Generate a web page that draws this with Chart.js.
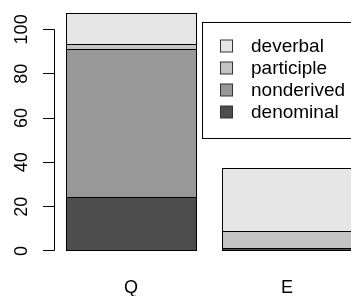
<!DOCTYPE html>
<html>
<head>
<meta charset="utf-8">
<script src="https://cdn.jsdelivr.net/npm/chart.js@4"></script>
<style>
  html, body { margin: 0; padding: 0; background: #fff; overflow: hidden; }
  #wrap { width: 380px; height: 296px; }
</style>
</head>
<body>
<div id="wrap"><canvas id="myChart" width="380" height="296"></canvas></div>
<script>
const labels = ['Q', 'E'];
const denominal = [24, 1];
const nonderived = [67, 0];
const participle = [2, 8];
const deverbal = [14, 28];
const yTicks = [0, 20, 40, 60, 80, 100];
const legendNames = ['deverbal', 'participle', 'nonderived', 'denominal'];

const colDenominal = '#4D4D4D';
const colNonderived = '#989898';
const colParticiple = '#C4C4C4';
const colDeverbal = '#E6E6E6';
const legendColors = [colDeverbal, colParticiple, colNonderived, colDenominal];
const font = '18px "Liberation Sans", Arial, sans-serif';
const legendFont = '19px "Liberation Sans", Arial, sans-serif';

// 1px black outline round every bar segment, like R's rect()
const outlines = {
  id: 'outlines',
  afterDatasetsDraw(chart) {
    const c = chart.ctx;
    c.save();
    c.strokeStyle = '#000';
    c.lineWidth = 1;
    chart.data.datasets.forEach((d, i) => {
      chart.getDatasetMeta(i).data.forEach(bar => {
        const l = Math.round(bar.x - bar.width / 2) + 0.5;
        const r = Math.round(bar.x + bar.width / 2) + 0.5;
        const t = Math.round(Math.min(bar.y, bar.base) - 0.5) + 0.5;
        const b = Math.round(Math.max(bar.y, bar.base) - 0.5) + 0.5;
        c.strokeRect(l, t, r - l, b - t);
      });
    });
    c.restore();
  }
};

// axes, tick labels and legend drawn the way R's barplot does
const rStyle = {
  id: 'rStyle',
  afterDraw(chart) {
    const c = chart.ctx;
    const y = chart.scales.y;
    const x = chart.scales.x;
    c.save();
    c.strokeStyle = '#000';
    c.lineWidth = 1;
    c.beginPath();
    c.moveTo(54.5, Math.round(y.getPixelForValue(0) - 0.5) + 0.5);
    c.lineTo(54.5, Math.round(y.getPixelForValue(100) - 0.5) + 0.5);
    yTicks.forEach(v => {
      const p = Math.round(y.getPixelForValue(v) - 0.5) + 0.5;
      c.moveTo(43, p);
      c.lineTo(54.5, p);
    });
    c.stroke();

    c.fillStyle = '#000';
    c.font = font;
    c.textAlign = 'center';
    c.textBaseline = 'middle';
    yTicks.forEach(v => {
      c.save();
      c.translate(22, y.getPixelForValue(v));
      c.rotate(-Math.PI / 2);
      c.fillText(String(v), 0, 0);
      c.restore();
    });
    labels.forEach((l, i) => {
      c.fillText(l, x.getPixelForValue(i), 288);
    });

    // legend box
    c.fillStyle = '#fff';
    c.fillRect(202.5, 22.5, 200, 116);
    c.strokeRect(202.5, 22.5, 200, 116);
    c.font = legendFont;
    legendNames.forEach((n, i) => {
      const cy = 46 + i * 22;
      c.fillStyle = legendColors[i];
      c.fillRect(220.5, cy - 6, 12, 12);
      c.strokeStyle = '#333';
      c.strokeRect(220.5, cy - 6, 12, 12);
      c.fillStyle = '#000';
      c.textAlign = 'left';
      c.fillText(n, 251, cy + 1);
    });
    c.restore();
  }
};

const ctx = document.getElementById('myChart');
const myChart = new Chart(ctx, {
  type: 'bar',
  data: {
    labels: labels,
    datasets: [
      { label: 'denominal', data: denominal, backgroundColor: colDenominal },
      { label: 'nonderived', data: nonderived, backgroundColor: colNonderived },
      { label: 'participle', data: participle, backgroundColor: colParticiple },
      { label: 'deverbal', data: deverbal, backgroundColor: colDeverbal }
    ].map(d => Object.assign(d, {
      borderWidth: 0,
      barPercentage: 130 / 156,
      categoryPercentage: 1
    }))
  },
  options: {
    responsive: false,
    animation: false,
    devicePixelRatio: 1,
    layout: { padding: { left: 53, right: 15, top: 5, bottom: 36.14 } },
    scales: {
      x: { stacked: true, display: false },
      y: { stacked: true, display: false, min: -4, max: 111 }
    },
    plugins: {
      legend: { display: false },
      tooltip: { enabled: false }
    }
  },
  plugins: [outlines, rStyle]
});
</script>
</body>
</html>
